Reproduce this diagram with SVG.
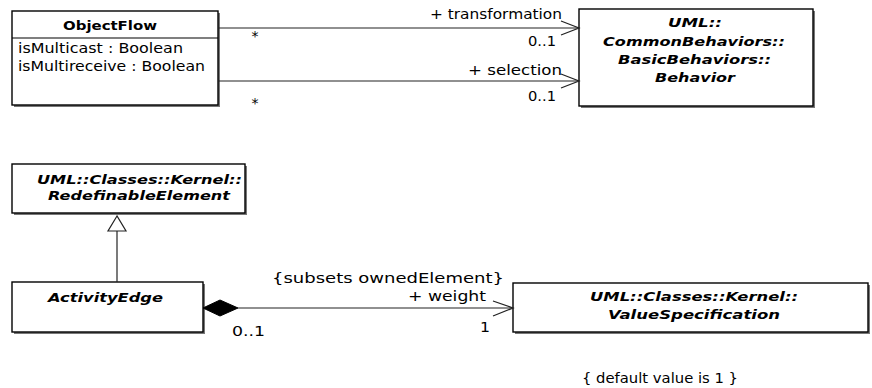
<svg xmlns="http://www.w3.org/2000/svg" width="872" height="388" viewBox="0 0 872 388">
<style>
.shadow{fill:#777;}
.box{fill:#fff;stroke:#000;stroke-width:1.4;}
.t{font-family:"DejaVu Sans","Liberation Sans",sans-serif;font-size:14px;fill:#000;}
.b{font-family:"DejaVu Sans","Liberation Sans",sans-serif;font-size:13px;font-weight:bold;fill:#000;}
.bi{font-family:"DejaVu Sans","Liberation Sans",sans-serif;font-size:12.5px;font-weight:bold;font-style:italic;fill:#000;}
.ln{fill:none;stroke:#222;stroke-width:1.2;}
</style>
<rect width="872" height="388" fill="#fff"/>
<g id="ObjectFlow">
<rect class="shadow" x="14" y="13" width="206" height="94"/>
<rect class="box" x="12" y="11" width="206" height="94"/>
<line x1="12" y1="38" x2="218" y2="38" stroke="#000" stroke-width="1.2"/>
<text class="b" x="63" y="30" textLength="94" lengthAdjust="spacingAndGlyphs">ObjectFlow</text>
<text class="t" x="18" y="53" textLength="165" lengthAdjust="spacingAndGlyphs">isMulticast : Boolean</text>
<text class="t" x="18" y="71" textLength="187" lengthAdjust="spacingAndGlyphs">isMultireceive : Boolean</text>
</g>
<g id="Behavior">
<rect class="shadow" x="581" y="11" width="234" height="97"/>
<rect class="box" x="579" y="9" width="234" height="97"/>
<text class="bi" x="668" y="27" textLength="54" lengthAdjust="spacingAndGlyphs">UML::</text>
<text class="bi" x="603" y="46" textLength="182" lengthAdjust="spacingAndGlyphs">CommonBehaviors::</text>
<text class="bi" x="618" y="64" textLength="153" lengthAdjust="spacingAndGlyphs">BasicBehaviors::</text>
<text class="bi" x="655" y="82" textLength="80" lengthAdjust="spacingAndGlyphs">Behavior</text>
</g>
<g id="RedefinableElement">
<rect class="shadow" x="14" y="166" width="233" height="49"/>
<rect class="box" x="12" y="164" width="233" height="49"/>
<text class="bi" x="37" y="184" textLength="205" lengthAdjust="spacingAndGlyphs">UML::Classes::Kernel::</text>
<text class="bi" x="48" y="200" textLength="182" lengthAdjust="spacingAndGlyphs">RedefinableElement</text>
</g>
<g id="ActivityEdge">
<rect class="shadow" x="14" y="284" width="191" height="50"/>
<rect class="box" x="12" y="282" width="191" height="50"/>
<text class="bi" x="48" y="302" textLength="115" lengthAdjust="spacingAndGlyphs">ActivityEdge</text>
</g>
<g id="ValueSpecification">
<rect class="shadow" x="515" y="285" width="355" height="49"/>
<rect class="box" x="513" y="283" width="355" height="49"/>
<text class="bi" x="590" y="301" textLength="208" lengthAdjust="spacingAndGlyphs">UML::Classes::Kernel::</text>
<text class="bi" x="608" y="319" textLength="172" lengthAdjust="spacingAndGlyphs">ValueSpecification</text>
</g>
<g id="connectors">
<line class="ln" x1="218" y1="28" x2="579" y2="28"/>
<polyline class="ln" points="561,21 579,28 561,35"/>
<line class="ln" x1="218" y1="81" x2="579" y2="81"/>
<polyline class="ln" points="561,74 579,81 561,88"/>
<line class="ln" x1="117" y1="231" x2="117" y2="282"/>
<polygon points="117,216 108,231 126,231" fill="#fff" stroke="#222" stroke-width="1.2"/>
<polygon points="203,308 220,300 238,308 220,316" fill="#000" stroke="#000" stroke-width="1"/>
<line class="ln" x1="238" y1="308" x2="513" y2="308"/>
<polyline class="ln" points="493,301 513,308 493,316"/>
</g>
<g id="labels">
<text class="t" x="255" y="41" text-anchor="middle" font-size="12">*</text>
<text class="t" x="255" y="108" text-anchor="middle" font-size="12">*</text>
<text class="t" x="430" y="19" textLength="132" lengthAdjust="spacingAndGlyphs">+ transformation</text>
<text class="t" x="528" y="46" textLength="28" lengthAdjust="spacingAndGlyphs">0..1</text>
<text class="t" x="468" y="75" textLength="94" lengthAdjust="spacingAndGlyphs">+ selection</text>
<text class="t" x="528" y="101" textLength="28" lengthAdjust="spacingAndGlyphs">0..1</text>
<text class="t" x="272" y="283" textLength="232" lengthAdjust="spacingAndGlyphs">{subsets ownedElement}</text>
<text class="t" x="408" y="301" textLength="78" lengthAdjust="spacingAndGlyphs">+ weight</text>
<text class="t" x="232" y="336" textLength="33" lengthAdjust="spacingAndGlyphs">0..1</text>
<text class="t" x="480" y="332" textLength="10" lengthAdjust="spacingAndGlyphs">1</text>
<text class="t" x="582" y="383" textLength="156" lengthAdjust="spacingAndGlyphs">{ default value is 1 }</text>
</g>
</svg>
